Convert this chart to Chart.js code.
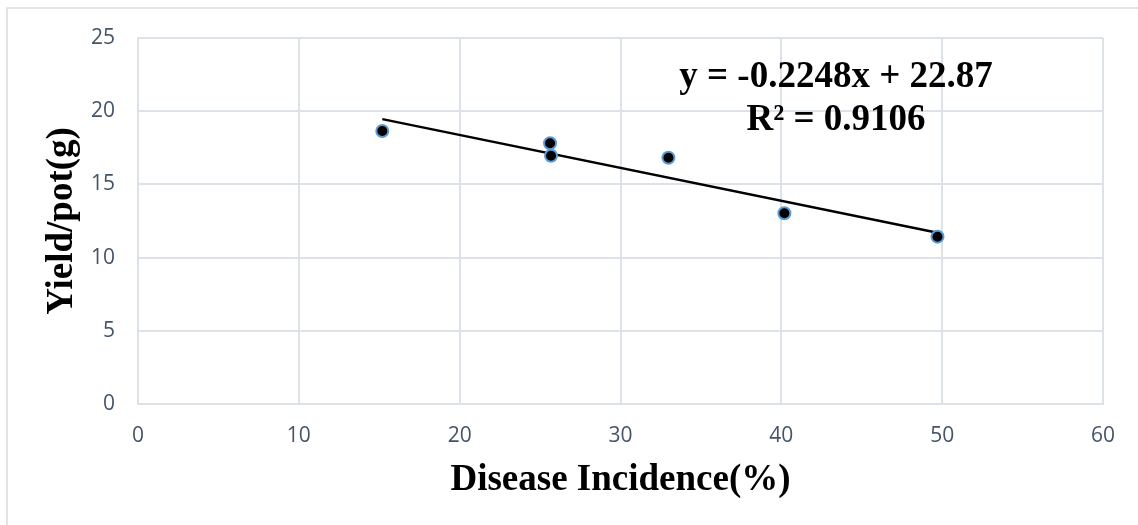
<!DOCTYPE html>
<html>
<head>
<meta charset="utf-8">
<script src="https://cdn.jsdelivr.net/npm/chart.js@4/dist/chart.umd.min.js"></script>
<style>
html,body{margin:0;padding:0;background:#fff;}
#wrap{position:relative;width:1138px;height:525px;overflow:hidden;}
#frame{position:absolute;left:6px;top:7px;width:1200px;height:600px;border-top:2px solid #E2E4E8;border-left:2px solid #E2E4E8;}
canvas{position:absolute;left:0;top:0;}
</style>
</head>
<body>
<div id="wrap"><div id="frame"></div><canvas id="c" width="1138" height="525"></canvas></div>
<script>
// Data
const diseaseIncidence = [15.19, 25.62, 25.68, 32.98, 40.19, 49.71];
const yieldPerPot      = [18.65, 17.81, 16.96, 16.82, 13.03, 11.43];
// Linear trend line end points (as drawn)
const trendX = [15.19, 49.71];
const trendY = [19.46, 11.70];
const xTicks = [0, 10, 20, 30, 40, 50, 60];
const yTicks = [0, 5, 10, 15, 20, 25];
const equationLines = ['y = -0.2248x + 22.87', 'R\u00B2 = 0.9106'];
const xTitle = 'Disease Incidence(%)';
const yTitle = 'Yield/pot(g)';

const gridColor = '#DDE1E8';
const tickColor = '#44546A';
const serifBold = {family: '"Liberation Serif", "Times New Roman", serif', weight: 'bold', size: 37};

const equationPlugin = {
  id: 'equation',
  afterDatasetsDraw(chart) {
    const ctx = chart.ctx;
    ctx.save();
    ctx.fillStyle = '#000';
    ctx.font = 'bold 37px "Liberation Serif", "Times New Roman", serif';
    ctx.textAlign = 'center';
    ctx.textBaseline = 'alphabetic';
    const cx = 836;
    ctx.fillText(equationLines[0], cx, 87);
    ctx.fillText(equationLines[1], cx, 130);
    ctx.restore();
  }
};

new Chart(document.getElementById('c'), {
  type: 'scatter',
  data: {
    datasets: [
      {
        label: 'Yield',
        data: diseaseIncidence.map((x, i) => ({x: x, y: yieldPerPot[i]})),
        backgroundColor: '#000000',
        borderColor: '#5B9BD5',
        borderWidth: 2,
        pointRadius: 6,
        pointHoverRadius: 6,
        order: 1
      },
      {
        label: 'Trend',
        type: 'line',
        data: trendX.map((x, i) => ({x: x, y: trendY[i]})),
        borderColor: '#000000',
        borderWidth: 2.5,
        pointRadius: 0,
        fill: false,
        order: 2
      }
    ]
  },
  options: {
    responsive: false,
    animation: false,
    events: [],
    layout: {padding: {left: 0, top: 38, right: 35, bottom: 0}},
    plugins: {legend: {display: false}, tooltip: {enabled: false}},
    scales: {
      x: {
        type: 'linear', min: 0, max: 60,
        afterBuildTicks: (s) => { s.ticks = xTicks.map(v => ({value: v})); },
        afterFit: (s) => { s.height = 121; },
        grid: {color: gridColor, lineWidth: 2, drawTicks: false},
        border: {display: true, color: gridColor, width: 2},
        ticks: {color: tickColor, font: {family: '"Open Sans", sans-serif', size: 21}, padding: 19, maxRotation: 0},
        title: {display: true, text: xTitle, color: '#000', font: serifBold, padding: {top: 0, bottom: 22}}
      },
      y: {
        type: 'linear', min: 0, max: 25,
        afterBuildTicks: (s) => { s.ticks = yTicks.map(v => ({value: v})); },
        afterFit: (s) => { s.width = 138; },
        grid: {color: gridColor, lineWidth: 2, drawTicks: false},
        border: {display: true, color: gridColor, width: 2},
        ticks: {color: tickColor, font: {family: '"Open Sans", sans-serif', size: 21}, padding: 23},
        title: {display: true, text: yTitle, color: '#000', font: serifBold, padding: {top: 40, bottom: 0}}
      }
    }
  },
  plugins: [equationPlugin]
});
</script>
</body>
</html>
